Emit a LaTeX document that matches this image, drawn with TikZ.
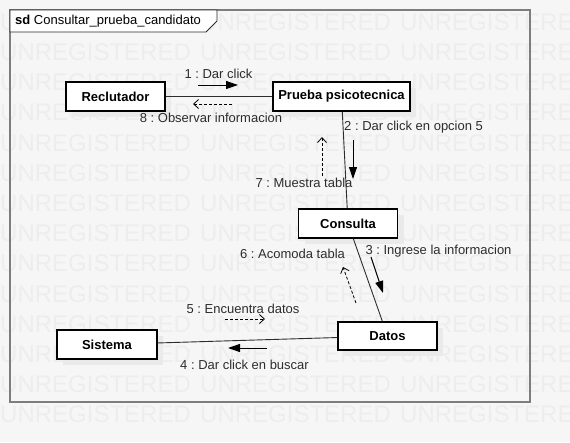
\documentclass[tikz,border=0pt]{standalone}
\usepackage{fontspec}
\setmainfont{Liberation Sans}
\usetikzlibrary{arrows.meta,shadows}
\definecolor{bgc}{RGB}{246,246,246}
\definecolor{wmc}{RGB}{237,237,237}
\definecolor{shc}{RGB}{234,234,234}
\definecolor{framec}{RGB}{125,125,125}
\definecolor{linec}{RGB}{45,45,45}
\frenchspacing

\begin{document}
\begin{tikzpicture}[
    x=1pt, y=-1pt,
    font=\fontsize{13}{15.6}\selectfont,
    wm/.style={text=wmc, inner sep=0pt, anchor=west, font=\fontsize{24}{28}\selectfont},
    obj/.style={rectangle, draw=black, line width=1.2pt, fill=white, minimum width=99pt, minimum height=29pt,
        font=\fontsize{13}{15.6}\selectfont\bfseries,
        drop shadow={shadow xshift=6pt, shadow yshift=-6pt, fill=shc, opacity=1}},
    link/.style={draw=linec, line width=0.9pt},
    msg/.style={-{Triangle[length=12pt,width=8pt]}, line width=1pt, black},
    reply/.style={-{Straight Barb[length=5pt,width=9pt]}, dash pattern=on 3pt off 2pt, line width=0.8pt, black},
    lbl/.style={text=linec, inner sep=0pt}
]
    \useasboundingbox (0,0) rectangle (570,442);
    \fill[bgc] (0,0) rectangle (570,442);

    % Watermark
    \begin{scope}
        \clip (0,0) rectangle (570,442);
        \foreach \r in {0,...,13}
            \foreach \c in {0,1,2}
                \node[wm, name=wm\r-\c] at ({200*\c},{22+30.2*\r}) {UNREGISTERED};
    \end{scope}

    % Frame
    \draw[framec, line width=1.8pt] (10,10) rectangle (530,402);
    \draw[linec, fill=white, line width=0.8pt] (10,10) -- (217,10) -- (217,21) -- (206,32) -- (10,32) -- cycle;
    \node[lbl, anchor=west, text=black] (title) at (15,21) {\textbf{sd}\ Consultar\_prueba\_candidato};

    % Nodes
    \node[obj] (rec) at (115.5,96.5) {Reclutador};
    \node[obj, minimum width=137pt] (pru) at (341.5,96.5) {Prueba psicotecnica};
    \node[obj] (con) at (348,223.5) {Consulta};
    \node[obj, minimum height=28pt] (dat) at (387.5,336) {Datos};
    \node[obj, minimum width=100pt] (sis) at (107,344.5) {Sistema};

    % Edges
    \draw[link] (rec) -- (pru);
    \draw[link] (pru) -- (con);
    \draw[link] (con) -- (dat);
    \draw[link] (dat) -- (sis);

    % Labels
    \node[lbl] (l1) at (218.5,74) {1 : Dar click};
    \node[lbl] (l8) at (211,118) {8 : Observar informacion};
    \node[lbl, anchor=west] (l2) at (344,127) {2 : Dar click en opcion 5};
    \node[lbl] (l7) at (304,183) {7 : Muestra tabla};
    \node[lbl] (l3) at (438.5,251) {3 : Ingrese la informacion};
    \node[lbl] (l6) at (292.5,254) {6 : Acomoda tabla};
    \node[lbl] (l5) at (243,309) {5 : Encuentra datos};
    \node[lbl] (l4) at (244.5,365) {4 : Dar click en buscar};

    % Messages
    \coordinate (m1a) at (198,85);  \coordinate (m1b) at (238,85);
    \coordinate (m8a) at (232,104); \coordinate (m8b) at (193,104);
    \coordinate (m2a) at (353,140); \coordinate (m2b) at (353,179);
    \coordinate (m7a) at (322,176); \coordinate (m7b) at (322,137);
    \coordinate (m3a) at (371,257); \coordinate (m3b) at (383,293);
    \coordinate (m6a) at (356,303); \coordinate (m6b) at (343,267);
    \coordinate (m5a) at (225,319); \coordinate (m5b) at (265,319);
    \coordinate (m4a) at (267,348); \coordinate (m4b) at (228,348);
    \draw[msg] (m1a) -- (m1b);
    \draw[reply] (m8a) -- (m8b);
    \draw[msg] (m2a) -- (m2b);
    \draw[reply] (m7a) -- (m7b);
    \draw[msg] (m3a) -- (m3b);
    \draw[reply] (m6a) -- (m6b);
    \draw[reply] (m5a) -- (m5b);
    \draw[msg] (m4a) -- (m4b);
\end{tikzpicture}
\end{document}
